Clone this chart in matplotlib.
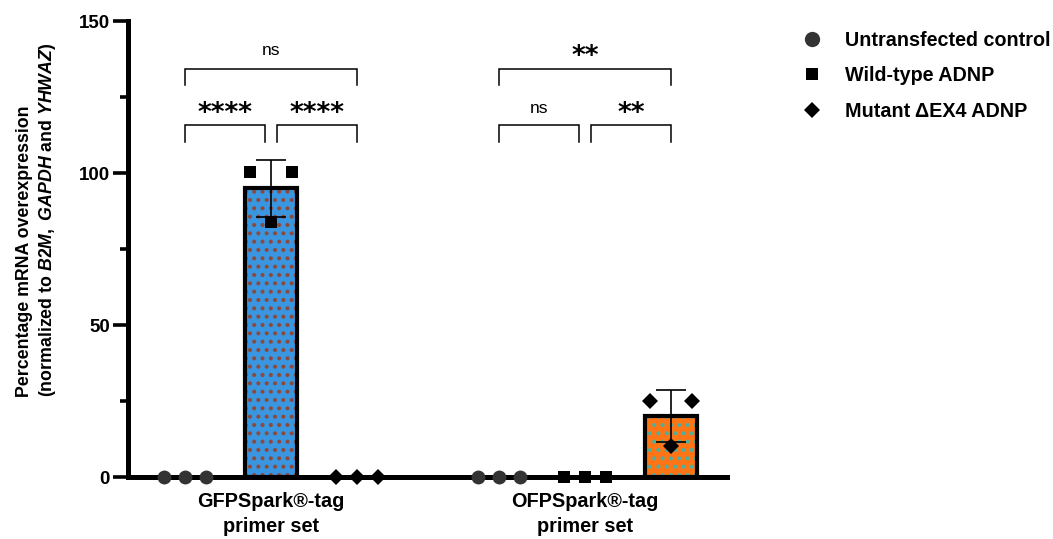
import numpy as np
import matplotlib
matplotlib.use("Agg")
import matplotlib.pyplot as plt
from matplotlib.lines import Line2D

plt.rcParams['font.family'] = ['Liberation Sans', 'DejaVu Sans']
plt.rcParams['mathtext.fontset'] = 'custom'
plt.rcParams['mathtext.it'] = 'Liberation Sans:italic:bold'
plt.rcParams['mathtext.rm'] = 'Liberation Sans:bold'
plt.rcParams['mathtext.bf'] = 'Liberation Sans:bold'
plt.rcParams['hatch.linewidth'] = 1.7

# ---------------- data ----------------
categories = ["GFPSpark®-tag\nprimer set", "OFPSpark®-tag\nprimer set"]
series = ["Untransfected control", "Wild-type ADNP", "Mutant ΔEX4 ADNP"]

gfp_untransfected = [0.0, 0.0, 0.0]
gfp_wildtype = [100.4, 84.0, 100.4]
gfp_mutant = [0.0, 0.0, 0.0]
ofp_untransfected = [0.0, 0.0, 0.0]
ofp_wildtype = [0.0, 0.0, 0.0]
ofp_mutant = [25.0, 10.2, 25.0]

y_ticks = [0, 50, 100, 150]
y_minor = [25, 75, 125]

# significance: (category index, series i, series j, label, level)
significance = [
    (0, 0, 2, "ns", 1),
    (0, 0, 1, "****", 0),
    (0, 1, 2, "****", 0),
    (1, 0, 2, "**", 1),
    (1, 0, 1, "ns", 0),
    (1, 1, 2, "**", 0),
]

# ---------------- style ----------------
markers = ['o', 's', 'D']
marker_sizes = [10, 8.4, 8.6]
marker_colors = ['#333333', '#000000', '#000000']
bar_styles = {  # (cat, series): (face, dots)
    (0, 1): ('#3a96e0', '#8c4a3c'),
    (1, 2): ('#ff7414', '#4cb0a0'),
}
group_start = [0.0, 3.65]
jitter = [-0.245, 0.0, 0.245]

data = [[gfp_untransfected, gfp_wildtype, gfp_mutant],
        [ofp_untransfected, ofp_wildtype, ofp_mutant]]

fig = plt.figure(figsize=(10.53, 5.39), dpi=100)
ax = fig.add_axes([128/1053, 1-477/539, (727-128)/1053, (477-21)/539])

for c in range(len(categories)):
    for s in range(len(series)):
        vals = np.array(data[c][s])
        xc = group_start[c] + s
        mean = vals.mean()
        sd = vals.std(ddof=1)
        if (c, s) in bar_styles:
            face, dots = bar_styles[(c, s)]
            ax.bar(xc, mean, width=0.6, color=face, edgecolor='none', zorder=2)
            ax.bar(xc, mean, width=0.6, facecolor='none', edgecolor=dots,
                   hatch='..', linewidth=0, zorder=2.1)
            ax.bar(xc, mean, width=0.6, facecolor='none', edgecolor='black',
                   linewidth=3.0, zorder=2.2)
            ax.errorbar(xc, mean, yerr=sd, fmt='none', ecolor='black',
                        elinewidth=1.2, capsize=10.5, capthick=1.2, zorder=3)
        xs = [xc + j for j in jitter]
        ax.plot(xs, vals, linestyle='none', marker=markers[s],
                markersize=marker_sizes[s], color=marker_colors[s],
                markeredgewidth=0, zorder=4, clip_on=False)

# significance brackets: (bracket foot, bracket top, text baseline)
bracket_y = {0: (110.2, 115.8, 117.0), 1: (128.9, 134.2, 136.0)}
gap = 0.065
for c, i, j, label, level in significance:
    x1 = group_start[c] + i
    x2 = group_start[c] + j
    if level == 0:
        if i == 0:
            x2 -= gap
        else:
            x1 += gap
    lo, hi, ty = bracket_y[level]
    ax.plot([x1, x1, x2, x2], [lo, hi, hi, lo], color='black', lw=1.1,
            zorder=3, clip_on=False, solid_joinstyle='miter')
    if label == 'ns':
        ax.text((x1+x2)/2, ty + 2.9, label, ha='center', va='baseline',
                fontsize=12.5, fontweight='normal')
    else:
        ax.text((x1+x2)/2, ty, label, ha='center', va='baseline', fontsize=19,
                fontweight='bold', family='DejaVu Sans')

ax.set_xlim(-0.663, 6.30)
ax.set_ylim(0, 150)
ax.set_yticks(y_ticks)
ax.set_yticks(y_minor, minor=True)
ax.set_yticklabels([str(t) for t in y_ticks], fontsize=13.5, fontweight='bold')
ax.set_xticks([group_start[c] + 1 for c in range(len(categories))])
ax.set_xticklabels(categories, fontsize=14.3, fontweight='bold', linespacing=1.4)
ax.tick_params(axis='x', length=0, pad=11)
ax.tick_params(axis='y', which='major', length=11, width=2.6, pad=2)
ax.tick_params(axis='y', which='minor', length=6, width=2.6)
for side in ['top', 'right']:
    ax.spines[side].set_visible(False)
for side in ['left', 'bottom']:
    ax.spines[side].set_linewidth(3.6)
    ax.spines[side].set_capstyle('projecting')

fig.text(37/1053, 1-220/539,
         "Percentage mRNA overexpression\n"
         r"(normalized to $\mathit{B2M,}$ $\mathit{GAPDH}$ and $\mathit{YHWAZ}$)",
         rotation=90, ha='center', va='center', multialignment='left',
         fontsize=12.75, fontweight='bold', linespacing=1.25)

handles = [Line2D([], [], linestyle='none', marker=markers[s],
                  markersize=[11, 8, 8.5][s], color=marker_colors[s],
                  markeredgewidth=0) for s in range(len(series))]
fig.legend(handles, series, loc='upper left', bbox_to_anchor=(800/1053, 1-31/539),
           frameon=False, borderpad=0, borderaxespad=0, handlelength=1.2,
           handletextpad=1.08, labelspacing=0.83,
           prop={'size': 14.2, 'weight': 'bold'})

fig.savefig('out.png', dpi=100)
